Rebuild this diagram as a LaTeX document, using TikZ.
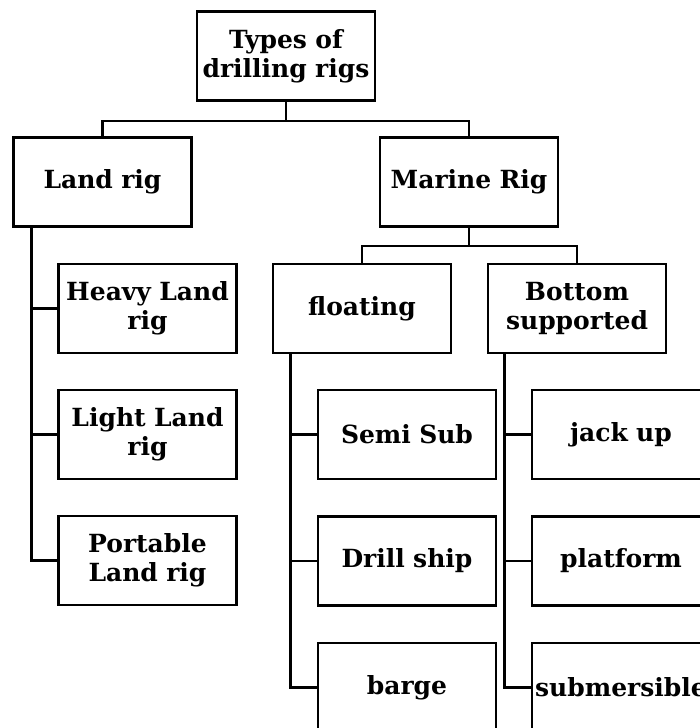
\documentclass[tikz,border=0pt]{standalone}
\usepackage{fontspec}
\setmainfont{DejaVu Serif}
\begin{document}
\begin{tikzpicture}[x=1pt,y=-1pt,
  box/.style={draw,line width=2.8pt,minimum width=178pt,minimum height=89pt,inner sep=0pt,
    align=center,font=\bfseries\fontsize{25}{29}\selectfont,text width=176pt},
  link/.style={line width=2.8pt}]
\useasboundingbox (0,0) rectangle (699,728);
\node[box] (top) at (286,56) {Types of\\drilling rigs};
\node[box] (land) at (102.5,182) {Land rig};
\node[box] (marine) at (469,182) {Marine Rig};
\node[box] (heavy) at (147.5,308.5) {Heavy Land\\rig};
\node[box] (light) at (147.5,434.5) {Light Land\\rig};
\node[box] (portable) at (147.5,560.5) {Portable\\Land rig};
\node[box] (floating) at (362,308.5) {floating};
\node[box] (bottom) at (577,308.5) {Bottom\\supported};
\node[box] (semisub) at (407,434.5) {Semi Sub};
\node[box] (drill) at (407,561) {Drill ship};
\node[box] (barge) at (407,687.5) {barge};
\node[box] (jack) at (621,434.5) {jack up};
\node[box] (platform) at (621,561) {platform};
\node[box] (subm) at (621,687.5) {submersible};
% top level
\draw[link] (top.south) -- ++(0,19) coordinate (t1);
\draw[link] (land.north) |- (t1) -| (marine.north);
% marine level
\draw[link] (marine.south) -- ++(0,18) coordinate (m1);
\draw[link] (floating.north) |- (m1) -| (bottom.north);
% land children
\coordinate (l0) at ([xshift=19pt]land.south west);
\draw[link] (l0) |- (portable.west);
\draw[link] (l0 |- heavy.west) -- (heavy.west);
\draw[link] (l0 |- light.west) -- (light.west);
% floating children
\coordinate (f0) at ([xshift=19pt]floating.south west);
\draw[link] (f0) |- (barge.west);
\draw[link] (f0 |- semisub.west) -- (semisub.west);
\draw[link] (f0 |- drill.west) -- (drill.west);
% bottom supported children
\coordinate (b0) at ([xshift=18pt]bottom.south west);
\draw[link] (b0) |- (subm.west);
\draw[link] (b0 |- jack.west) -- (jack.west);
\draw[link] (b0 |- platform.west) -- (platform.west);
\end{tikzpicture}
\end{document}
